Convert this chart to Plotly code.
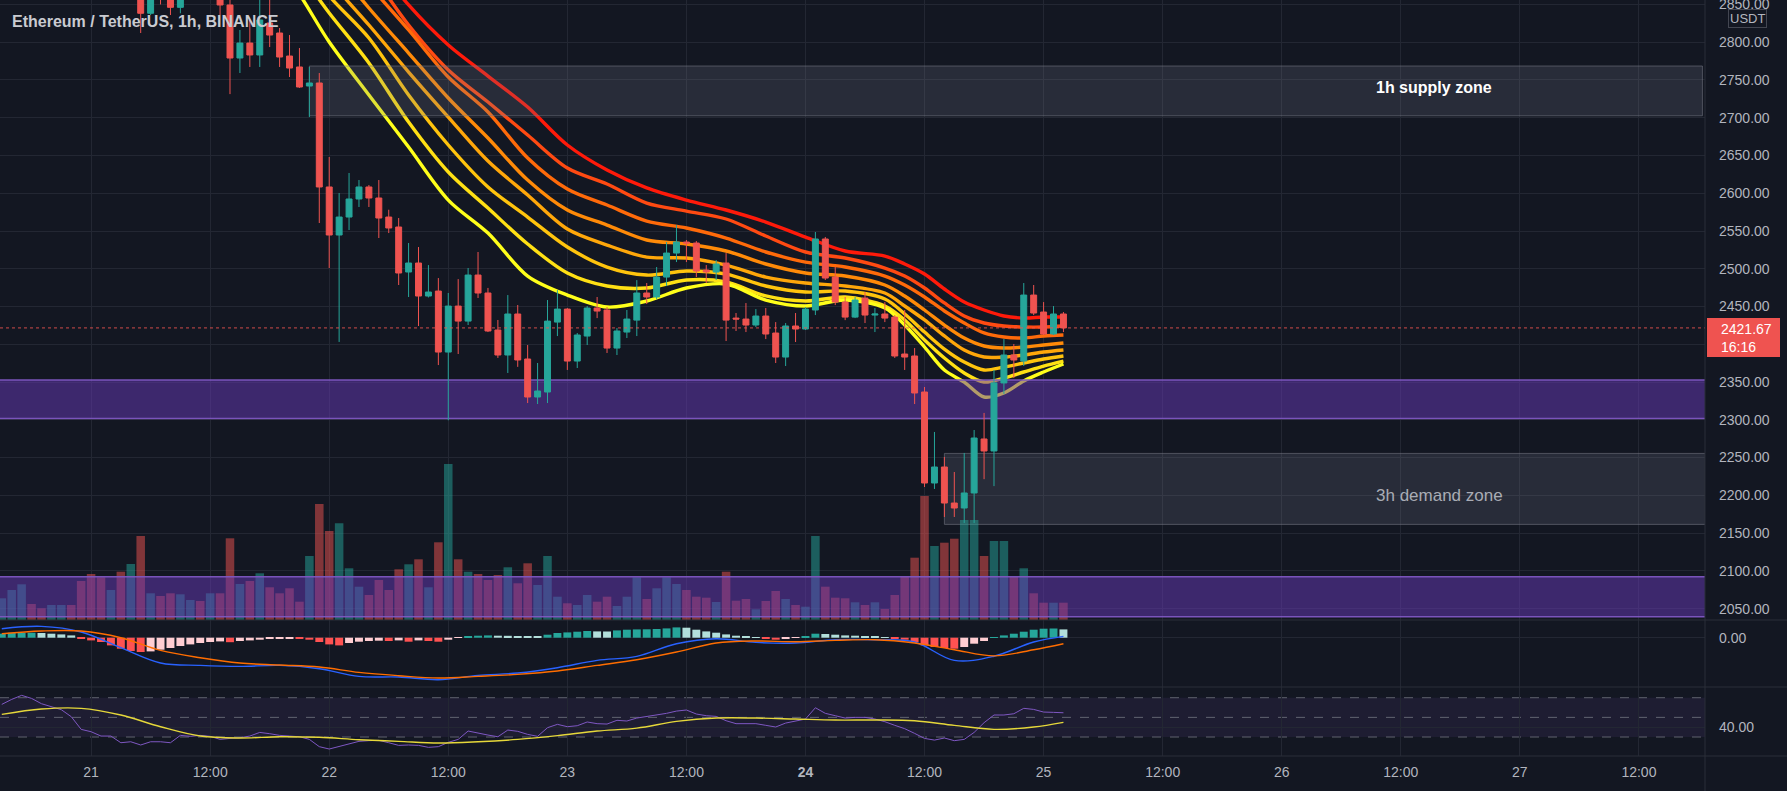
import plotly.graph_objects as go

# ---------------- data (hours since 2022-01-21 00:00, 1h candles) ----------------
hours = list(range(-9, 99))

opens = [3090, 3110, 3125, 3135, 3100, 3080, 3090, 3095, 3060, 3010,
         2950, 2920, 2935, 2895, 2905, 2838.3, 2875, 2870, 2846.2, 2865,
         2880, 2870, 2878, 2849.3, 2779.1, 2798.9, 2783.1, 2825.4, 2812.2, 2781.7,
         2767.2, 2742.0, 2746.0, 2608.3, 2544.7, 2568.5, 2592.4, 2608.3, 2593.7, 2568.5,
         2555.3, 2495.7, 2507.6, 2463.9, 2470.5, 2389.7, 2450.6, 2430.7, 2491.7, 2467.9,
         2418.9, 2385.8, 2440.1, 2380.5, 2330.2, 2336.8, 2429.4, 2446.6, 2377.8, 2410.9,
         2448.0, 2445.4, 2395.0, 2416.2, 2432.0, 2467.9, 2462.6, 2489.0, 2520.8, 2535.4,
         2534.1, 2498.3, 2495.7, 2507.6, 2434.7, 2433.4, 2425.5, 2437.4, 2414.9, 2383.1,
         2424.2, 2420.2, 2445.4, 2539.4, 2489.0, 2455.9, 2436.0, 2461.2, 2438.7, 2440.1,
         2436.0, 2387.1, 2384.5, 2336.8, 2216.3, 2237.5, 2189.8, 2183.2, 2203.1, 2274.6,
         2258.7, 2348.8, 2385.8, 2377.8, 2465.2, 2442.7, 2413.6, 2440.1]
highs = [3120, 3140, 3150, 3140, 3110, 3100, 3105, 3100, 3065, 3020,
         2960, 2945, 2940, 2920, 2910, 2880, 2885, 2878, 2875, 2890,
         2888, 2885, 2885, 2860, 2816.2, 2829.4, 2858, 2858, 2818.8, 2809.5,
         2792.3, 2767.2, 2759.2, 2648.0, 2600.3, 2626.8, 2617.5, 2610.9, 2617.5, 2578.2,
         2567.2, 2534.1, 2528.8, 2504.9, 2487.7, 2467.9, 2486.3, 2501.0, 2522.2, 2474.6,
         2432.2, 2465.2, 2452.0, 2399.0, 2375.2, 2458.6, 2471.8, 2448.0, 2414.9, 2450.6,
         2462.6, 2449.3, 2421.5, 2445.4, 2485.0, 2481.1, 2502.3, 2535.4, 2557.9, 2538.1,
         2536.7, 2504.9, 2511.6, 2520.8, 2441.4, 2454.6, 2446.6, 2448.0, 2429.4, 2428.1,
         2441.4, 2449.3, 2548.7, 2542.1, 2502.3, 2462.6, 2462.6, 2469.1, 2448.0, 2455.9,
         2438.7, 2445.4, 2395.0, 2343.4, 2283.9, 2250.8, 2230.9, 2256.1, 2286.5, 2309.1,
         2366.0, 2407.0, 2400.4, 2481.1, 2478.5, 2455.9, 2450.6, 2442.7]
lows = [3080, 3100, 3110, 3090, 3070, 3060, 3075, 3050, 3000, 2940,
        2900, 2905, 2880, 2875, 2812.2, 2836.0, 2850, 2836.0, 2838.3, 2858,
        2860, 2862, 2836.0, 2731.3, 2759.2, 2767.2, 2767.2, 2793.6, 2767.2, 2753.9,
        2739.4, 2700.9, 2560.6, 2501.0, 2403.1, 2551.3, 2581.8, 2581.8, 2540.7, 2547.3,
        2478.5, 2462.6, 2424.2, 2462.0, 2372.5, 2299.4, 2387.1, 2425.5, 2461.3, 2416.2,
        2381.9, 2362.0, 2370.1, 2322.2, 2320.9, 2322.2, 2410.9, 2366.0, 2368.6, 2399.0,
        2434.7, 2388.5, 2385.8, 2408.3, 2410.9, 2453.3, 2459.9, 2477.1, 2508.9, 2508.9,
        2489.0, 2481.1, 2485.1, 2404.3, 2417.6, 2416.2, 2422.8, 2406.9, 2375.2, 2371.2,
        2403.0, 2418.9, 2438.7, 2485.1, 2451.9, 2432.0, 2434.7, 2428.1, 2416.2, 2429.4,
        2381.9, 2366.0, 2320.9, 2211.0, 2208.4, 2171.3, 2171.3, 2163.3, 2163.3, 2221.4,
        2212.2, 2334.2, 2355.4, 2371.2, 2438.7, 2412.3, 2412.3, 2416.2]
closes = [3110, 3125, 3135, 3100, 3080, 3090, 3095, 3060, 3010, 2950,
          2920, 2935, 2895, 2905, 2838.3, 2870, 2862, 2846.2, 2865, 2880,
          2870, 2878, 2849.3, 2779.1, 2798.9, 2783.1, 2829.4, 2809.5, 2780.4, 2765.8,
          2740.7, 2746.0, 2608.3, 2544.7, 2568.5, 2592.4, 2608.3, 2593.7, 2567.2, 2554.0,
          2494.4, 2507.6, 2463.9, 2469.2, 2389.7, 2450.6, 2430.7, 2491.7, 2467.9, 2417.6,
          2385.8, 2440.1, 2379.2, 2330.2, 2338.1, 2430.7, 2446.6, 2377.8, 2412.3, 2448.0,
          2444.0, 2395.0, 2417.6, 2433.4, 2467.9, 2462.6, 2489.0, 2520.8, 2535.4, 2534.1,
          2497.0, 2495.7, 2506.3, 2432.0, 2433.4, 2425.5, 2437.4, 2413.6, 2383.1, 2424.2,
          2420.2, 2446.6, 2539.4, 2487.7, 2455.9, 2436.0, 2458.6, 2438.7, 2440.1, 2434.7,
          2384.5, 2383.1, 2335.5, 2216.3, 2237.5, 2189.8, 2183.2, 2203.1, 2275.9, 2258.7,
          2348.8, 2385.8, 2379.2, 2465.2, 2441.4, 2413.6, 2440.1, 2421.67]

volume = [21.7, 30, 35.7, 16, 11.7, 15, 15, 15, 39, 46,
          42.7, 30, 48.3, 56, 84, 26.7, 24, 26.7, 25.7, 20,
          19, 26.7, 26.7, 81.7, 36, 39, 46.7, 32.7, 26.7, 31.7,
          18.3, 64, 116, 89, 96.7, 51.7, 33.3, 25, 40, 30,
          50.7, 55.7, 60.7, 32.7, 77.7, 156, 60.7, 48.3, 46, 40,
          45, 52.7, 36.7, 56.7, 35, 64, 23.3, 16.7, 15, 25,
          18.3, 23.3, 14, 23.3, 42.7, 21, 31.7, 42.7, 36, 30,
          23.3, 22.3, 18, 48.3, 19.3, 21, 10.7, 19, 29, 21,
          15, 13.3, 84, 33.3, 22.3, 21.7, 17.7, 15, 17.7, 11,
          25, 43.3, 62.3, 124, 74, 77.3, 81.3, 100, 100, 64,
          79, 79, 43, 51.7, 26.7, 17.3, 17.3, 17.3]

# EMA ribbon (8 lines, red = slowest ... yellow = fastest), read at these hours
ribbon_hours = [16, 20, 24, 28, 32, 36, 40, 44, 48, 52, 56, 60, 64, 68, 72, 76,
                80, 82, 84, 86, 88, 90, 92, 94, 96, 98]
ribbon_1 = [3110, 3041.3, 2981.7, 2915.5, 2849.3, 2796.3, 2755.2, 2714.2, 2663.9, 2630.8, 2607.0, 2591.0, 2577.8,
            2561.9, 2542.0, 2523.5, 2516.8, 2506.3, 2493.0, 2473.2, 2456.0, 2445.4, 2437.5, 2434.8, 2436.1, 2436.1]
ribbon_2 = [3085, 3021.5, 2961.9, 2895.6, 2822.8, 2763.2, 2720.8, 2677.1, 2633.4, 2612.2, 2587.0, 2576.4, 2565.9,
            2543.4, 2522.2, 2514.2, 2501.0, 2490.4, 2474.5, 2454.7, 2437.5, 2428.2, 2424.2, 2422.9, 2422.9, 2424.2]
ribbon_3 = [3060, 2995, 2935.3, 2875.7, 2816.2, 2753.9, 2707.6, 2646.7, 2605.6, 2584.4, 2563.2, 2554.0, 2540.7,
            2522.2, 2508.9, 2502.3, 2490.4, 2478.5, 2462.6, 2444.1, 2428.2, 2415.0, 2409.6, 2408.3, 2411.0, 2412.3]
ribbon_4 = [3035, 2968.5, 2908.8, 2845.3, 2785.7, 2726.1, 2673.1, 2617.5, 2577.8, 2557.9, 2538.1, 2532.8, 2523.5,
            2506.3, 2494.4, 2490.4, 2478.5, 2463.9, 2445.4, 2425.5, 2408.3, 2397.7, 2395.0, 2396.4, 2399.0, 2401.7]
ribbon_5 = [3010, 2950, 2882.4, 2822.8, 2760.5, 2700.9, 2642.7, 2597.7, 2552.6, 2531.4, 2515.5, 2514.2, 2504.9,
            2489.0, 2481.1, 2477.2, 2467.9, 2450.7, 2432.2, 2411.0, 2392.4, 2383.1, 2383.1, 2385.8, 2389.7, 2392.4]
ribbon_6 = [2985, 2930, 2861.2, 2805.6, 2730.1, 2663.9, 2608.3, 2568.5, 2528.8, 2502.3, 2491.7, 2497.0, 2493.0,
            2477.2, 2469.2, 2470.5, 2459.9, 2440.1, 2416.2, 2393.7, 2376.5, 2365.9, 2369.9, 2375.2, 2380.5, 2384.5]
ribbon_7 = [2960, 2908.8, 2838.7, 2772.5, 2694.3, 2628.1, 2580.4, 2532.8, 2494.4, 2477.2, 2474.5, 2485.1, 2482.5,
            2464.0, 2457.3, 2462.6, 2450.7, 2432.2, 2405.7, 2381.8, 2362.0, 2350.0, 2355.3, 2363.3, 2371.2, 2377.8]
ribbon_8 = [2935, 2882.4, 2800.3, 2730.1, 2661.2, 2591.0, 2547.3, 2490.4, 2465.2, 2449.3, 2457.3, 2474.5, 2479.8,
            2458.6, 2450.7, 2458.6, 2448.0, 2425.5, 2396.4, 2365.9, 2350.0, 2330.2, 2335.5, 2351.4, 2363.3, 2373.9]

# MACD
macd_hist = [4, 5, 5, 5, 4.7, 4, 3.3, 2.3, -1, -2.7,
             -4.3, -7.7, -11, -13.3, -14.3, -13.7, -12, -10.3, -8.3, -6.7,
             -5.3, -4.3, -3.7, -4.5, -3.3, -2.7, -2, -1.3, -1, -0.7,
             -1, -2, -4.3, -6.7, -7.7, -5.3, -4, -3.3, -3, -3.3,
             -2.7, -4, -2.7, -3.3, -4, -2, -0.3, 1.3, 2, 2.3,
             2, 1.9, 1.7, 1.3, 1.2, 3, 4.7, 5.3, 6, 6.7,
             6.3, 6.2, 7.3, 8, 8.3, 8.4, 8.7, 9.3, 10.3, 10,
             8, 6.3, 5, 3.3, 2, 1.3, 0.7, -1.3, -2, -1.3,
             -0.3, 1.3, 4, 3.7, 3, 2.3, 2, 1.7, 1.3, 0.7,
             -0.7, -2, -4.3, -7.7, -9.3, -10.3, -11, -9.3, -6, -3.3,
             0.3, 2.3, 4, 6, 8, 9, 9.2, 8.3]
line_hours = [-9, -5, -1, 3, 7, 11, 15, 19, 23, 27, 31, 35, 39, 43, 47, 51, 55, 59,
              63, 67, 71, 75, 79, 83, 87, 91, 95, 98]
macd_line = [9, 11.3, 5.7, -10, -25.3, -27.7, -28.7, -27.7, -31, -38.7, -39.3, -42, -37.7, -35.3,
             -30, -22.7, -18.7, -6, -1, -4.7, -5.3, -2, -2, -4.3, -22.7, -18.5, -4.3, 1.3]
macd_signal = [4, 6.7, 6.7, 0, -12.7, -20, -25.3, -27.3, -29.3, -34.7, -38, -40.3, -38.7, -36.7,
               -33.3, -27.7, -22, -14.3, -5.3, -3.3, -4, -2.7, -2, -5.3, -12, -18.2, -12, -6]

# RSI
rsi = [63.2, 68.3, 72.4, 69.3, 63.9, 60.5, 57.8, 50.7, 37.8, 35.4,
       31.0, 31.0, 24.2, 25.2, 21.9, 25.2, 25.2, 24.2, 31.7, 30.7,
       31.7, 30.7, 27.6, 28.6, 29.3, 31.0, 34.7, 33.4, 31.7, 31.0,
       30.3, 27.6, 20.2, 17.8, 20.2, 22.9, 25.6, 26.3, 26.6, 24.2,
       21.5, 21.9, 21.5, 19.5, 20.2, 24.6, 27.6, 36.1, 33.7, 32.0,
       30.3, 37.1, 35.8, 32.7, 30.7, 39.5, 42.9, 40.5, 41.5, 45.3,
       43.6, 43.2, 47.0, 46.3, 49.3, 50.7, 52.4, 54.1, 56.4, 57.5,
       53.4, 51.7, 51.0, 46.6, 43.6, 43.6, 43.6, 41.9, 40.2, 44.2,
       45.9, 48.3, 59.8, 54.1, 51.7, 49.3, 50.0, 50.0, 48.3, 45.6,
       41.9, 38.5, 33.7, 28.6, 26.9, 29.0, 26.3, 27.6, 34.7, 44.6,
       52.4, 52.4, 53.7, 59.2, 58.1, 55.4, 55.1, 54.7]
rsi_ma = [53.0, 58.5, 59.2, 52.4, 40.5, 31.0, 29.0, 30.3, 29.7, 27.3, 25.6, 23.9, 25.2, 27.6,
          31.4, 36.1, 39.1, 45.9, 49.3, 49.3, 48.3, 47.3, 47.3, 46.6, 41.9, 37.8, 40.2, 44.9]
rsi_levels = [70, 50, 30]

# zones (start hour, end hour, low price, high price)
supply_zone = [22, 162.4, 2702.6, 2768.5]
demand_zone = [86, 162.7, 2161.5, 2255.5]
purple_band_1 = [2301.8, 2352.6]
purple_band_2 = [2039.2, 2092.2]

x_ticks = [0, 12, 24, 36, 48, 60, 72, 84, 96, 108, 120, 132, 144, 156]
x_tick_text = ["21", "12:00", "22", "12:00", "23", "12:00", "<b>24</b>", "12:00",
               "25", "12:00", "26", "12:00", "27", "12:00"]
price_ticks = [2050, 2100, 2150, 2200, 2250, 2300, 2350, 2400, 2450, 2500, 2550,
               2600, 2650, 2700, 2750, 2800, 2850]
price_tick_text = ["2050.00", "2100.00", "2150.00", "2200.00", "2250.00", "2300.00", "2350.00", "",
                   "2450.00", "2500.00", "2550.00", "2600.00", "2650.00", "2700.00", "2750.00",
                   "2800.00", "2850.00"]

# ---------------- styling / layout constants ----------------
BG = "#131722"
GRID = "#232733"
TXT = "#b2b5be"
FONT = "Liberation Sans"
UP, DOWN = "#26a69a", "#ef5350"
X0, X1 = -9.18, 162.66
PMIN, PMAX = 2034.9, 2855.9
PLOT_H = 756.0
PD0 = 1 - 620 / PLOT_H
MD0 = 1 - 687 / PLOT_H
PW = 1705.0

fig = go.Figure()

# ribbon (base price subplot -> below zones)
ribbon_colors = ["#ff1a0a", "#ff4a12", "#ff6a0a", "#ff8a08", "#ffa70a", "#ffc40d", "#ffe014", "#ffff1a"]
for vals, col in zip([ribbon_1, ribbon_2, ribbon_3, ribbon_4, ribbon_5, ribbon_6, ribbon_7, ribbon_8],
                     ribbon_colors):
    fig.add_trace(go.Scatter(x=ribbon_hours, y=vals, mode="lines",
                             line=dict(color=col, width=3.4, shape="spline", smoothing=0.9),
                             xaxis="x", yaxis="y", hoverinfo="skip", showlegend=False))

# zones on overlay y2 (above ribbon, below candles)
def rect(x0, x1, y0, y1):
    return [x0, x1, x1, x0, x0], [y0, y0, y1, y1, y0]

bx, by = rect(X0, X1, purple_band_1[0], purple_band_1[1])
fig.add_trace(go.Scatter(x=bx, y=by, mode="lines", fill="toself", fillcolor="rgba(103,58,183,0.5)",
                         line=dict(width=0), xaxis="x", yaxis="y2", hoverinfo="skip", showlegend=False))
for lvl in purple_band_1:
    fig.add_trace(go.Scatter(x=[X0, X1], y=[lvl, lvl], mode="lines",
                             line=dict(color="rgba(126,87,194,0.95)", width=1.5),
                             xaxis="x", yaxis="y2", hoverinfo="skip", showlegend=False))
for z in (supply_zone, demand_zone):
    zx, zy = rect(z[0], z[1], z[2], z[3])
    fig.add_trace(go.Scatter(x=zx, y=zy, mode="lines", fill="toself", fillcolor="rgba(120,123,140,0.22)",
                             line=dict(color="rgba(120,123,134,0.55)", width=1),
                             xaxis="x", yaxis="y2", hoverinfo="skip", showlegend=False))

# candles on overlay y3
fig.add_trace(go.Candlestick(x=hours, open=opens, high=highs, low=lows, close=closes,
                             increasing=dict(line=dict(color=UP, width=1), fillcolor=UP),
                             decreasing=dict(line=dict(color=DOWN, width=1), fillcolor=DOWN),
                             whiskerwidth=0, xaxis="x", yaxis="y3", hoverinfo="skip", showlegend=False))

# volume on overlay y4
vol_colors = ["rgba(38,166,154,0.5)" if c >= o else "rgba(239,83,80,0.5)" for o, c in zip(opens, closes)]
fig.add_trace(go.Bar(x=hours, y=volume, width=0.86, marker=dict(color=vol_colors, line=dict(width=0)),
                     xaxis="x", yaxis="y4", hoverinfo="skip", showlegend=False))

# MACD pane
hist_colors = []
prev = None
for v in macd_hist:
    if v >= 0:
        hist_colors.append(UP if (prev is None or v >= prev) else "#b2dfdb")
    else:
        hist_colors.append("#ff5252" if (prev is None or v <= prev) else "#ffcdd2")
    prev = v
fig.add_trace(go.Bar(x=hours, y=macd_hist, width=0.8, marker=dict(color=hist_colors, line=dict(width=0)),
                     xaxis="x", yaxis="y5", hoverinfo="skip", showlegend=False))
fig.add_trace(go.Scatter(x=line_hours, y=macd_line, mode="lines",
                         line=dict(color="#2962ff", width=1.4, shape="spline"),
                         xaxis="x", yaxis="y5", hoverinfo="skip", showlegend=False))
fig.add_trace(go.Scatter(x=line_hours, y=macd_signal, mode="lines",
                         line=dict(color="#ff6d00", width=1.4, shape="spline"),
                         xaxis="x", yaxis="y5", hoverinfo="skip", showlegend=False))

# RSI pane
fig.add_trace(go.Scatter(x=hours, y=rsi, mode="lines", line=dict(color="#7e57c2", width=1),
                         xaxis="x", yaxis="y6", hoverinfo="skip", showlegend=False))
fig.add_trace(go.Scatter(x=line_hours, y=rsi_ma, mode="lines",
                         line=dict(color="#e6d83a", width=1.4, shape="spline"),
                         xaxis="x", yaxis="y6", hoverinfo="skip", showlegend=False))

shapes = []
# lower purple band drawn above volume
shapes.append(dict(type="rect", xref="x", yref="y", x0=X0, x1=X1, y0=purple_band_2[0], y1=purple_band_2[1],
                   fillcolor="rgba(103,58,183,0.5)", line=dict(width=0), layer="above"))
for lvl in purple_band_2:
    shapes.append(dict(type="line", xref="x", yref="y", x0=X0, x1=X1, y0=lvl, y1=lvl,
                       line=dict(color="rgba(126,87,194,0.95)", width=1.5), layer="above"))
# last price dotted line
shapes.append(dict(type="line", xref="x", yref="y", x0=X0, x1=X1, y0=closes[-1], y1=closes[-1],
                   line=dict(color="rgba(239,83,80,0.85)", width=1, dash="dot"), layer="above"))
# RSI band and levels
shapes.append(dict(type="rect", xref="x", yref="y6", x0=X0, x1=X1, y0=rsi_levels[2], y1=rsi_levels[0],
                   fillcolor="rgba(126,87,194,0.1)", line=dict(width=0), layer="below"))
for lvl in rsi_levels:
    shapes.append(dict(type="line", xref="x", yref="y6", x0=X0, x1=X1, y0=lvl, y1=lvl,
                       line=dict(color="rgba(120,123,134,0.75)", width=1, dash="dash"), layer="below"))
# pane separators / borders
for py in (620, 687, 756):
    yp = 1 - py / PLOT_H
    shapes.append(dict(type="line", xref="paper", yref="paper", x0=0, x1=1787 / PW, y0=yp, y1=yp,
                       line=dict(color="#2a2e39", width=1), layer="above"))
shapes.append(dict(type="line", xref="paper", yref="paper", x0=1.0, x1=1.0, y0=-35 / PLOT_H, y1=1,
                   line=dict(color="#2a2e39", width=1), layer="above"))
# last price label box
shapes.append(dict(type="rect", xref="paper", yref="paper", x0=1707 / PW, x1=1780 / PW,
                   y0=1 - 357 / PLOT_H, y1=1 - 318 / PLOT_H, fillcolor="#ef5350",
                   line=dict(width=0), layer="above"))

annotations = [
    dict(xref="paper", yref="paper", x=9.6 / PW, y=1 - 21 / PLOT_H, xanchor="left", yanchor="middle",
         text="<b>Ethereum / TetherUS, 1h, BINANCE</b>", showarrow=False,
         font=dict(family=FONT, size=16, color="#c9cbd1")),
    dict(xref="x", yref="y", x=135.3, y=2739.4, text="<b>1h supply zone</b>", showarrow=False,
         font=dict(family=FONT, size=16, color="#ffffff")),
    dict(xref="x", yref="y", x=135.9, y=2200.4, text="3h demand zone", showarrow=False,
         font=dict(family=FONT, size=17, color="#a9acb5")),
    dict(xref="paper", yref="paper", x=1748 / PW, y=1 - 19 / PLOT_H, text="USDT", showarrow=False,
         xanchor="center", yanchor="middle", font=dict(family=FONT, size=13, color=TXT),
         bordercolor="#434651", borderwidth=1, borderpad=1, bgcolor=BG),
    dict(xref="paper", yref="paper", x=1719 / PW, y=1 - 329 / PLOT_H, xanchor="left", yanchor="middle",
         text=f"{closes[-1]:.2f}", showarrow=False, font=dict(family=FONT, size=14, color="#ffffff")),
    dict(xref="paper", yref="paper", x=1719 / PW, y=1 - 347 / PLOT_H, xanchor="left", yanchor="middle",
         text="16:16", showarrow=False, font=dict(family=FONT, size=14, color="#ffffff")),
]

axis_font = dict(family=FONT, size=14, color=TXT)
fig.update_layout(
    width=1787, height=791, margin=dict(l=0, r=82, t=0, b=35, autoexpand=False),
    paper_bgcolor=BG, plot_bgcolor=BG, showlegend=False, font=dict(family=FONT),
    boxgap=0.25, boxgroupgap=0.2,
    xaxis=dict(range=[X0, X1], anchor="y6", tickmode="array", tickvals=x_ticks, ticktext=x_tick_text,
               showgrid=True, gridcolor=GRID, zeroline=False, showline=False, ticks="",
               tickfont=axis_font, ticklabelstandoff=6, rangeslider=dict(visible=False),
               automargin=False),
    yaxis=dict(domain=[PD0, 1], range=[PMIN, PMAX], side="right", anchor="x", tickmode="array",
               tickvals=price_ticks, ticktext=price_tick_text, showgrid=True, gridcolor=GRID,
               zeroline=False, ticks="", tickfont=axis_font, ticklabelstandoff=13,
               ticklabeloverflow="allow", automargin=False),
    yaxis2=dict(overlaying="y", anchor="x", range=[PMIN, PMAX], visible=False),
    yaxis3=dict(overlaying="y", anchor="x", range=[PMIN, PMAX], visible=False),
    yaxis4=dict(overlaying="y", anchor="x", range=[0, 620], visible=False),
    yaxis5=dict(domain=[MD0, PD0], range=[-49.3, 17.7], side="right", anchor="x", tickmode="array",
                tickvals=[0], ticktext=["0.00"], showgrid=True, gridcolor=GRID, zeroline=False,
                ticks="", tickfont=axis_font, ticklabelstandoff=13, automargin=False),
    yaxis6=dict(domain=[0, MD0], range=[10.7, 80.9], side="right", anchor="x", tickmode="array",
                tickvals=[40], ticktext=["40.00"], showgrid=True, gridcolor=GRID, zeroline=False,
                ticks="", tickfont=axis_font, ticklabelstandoff=13, automargin=False),
    shapes=shapes, annotations=annotations,
)

fig.write_html("out.html")
